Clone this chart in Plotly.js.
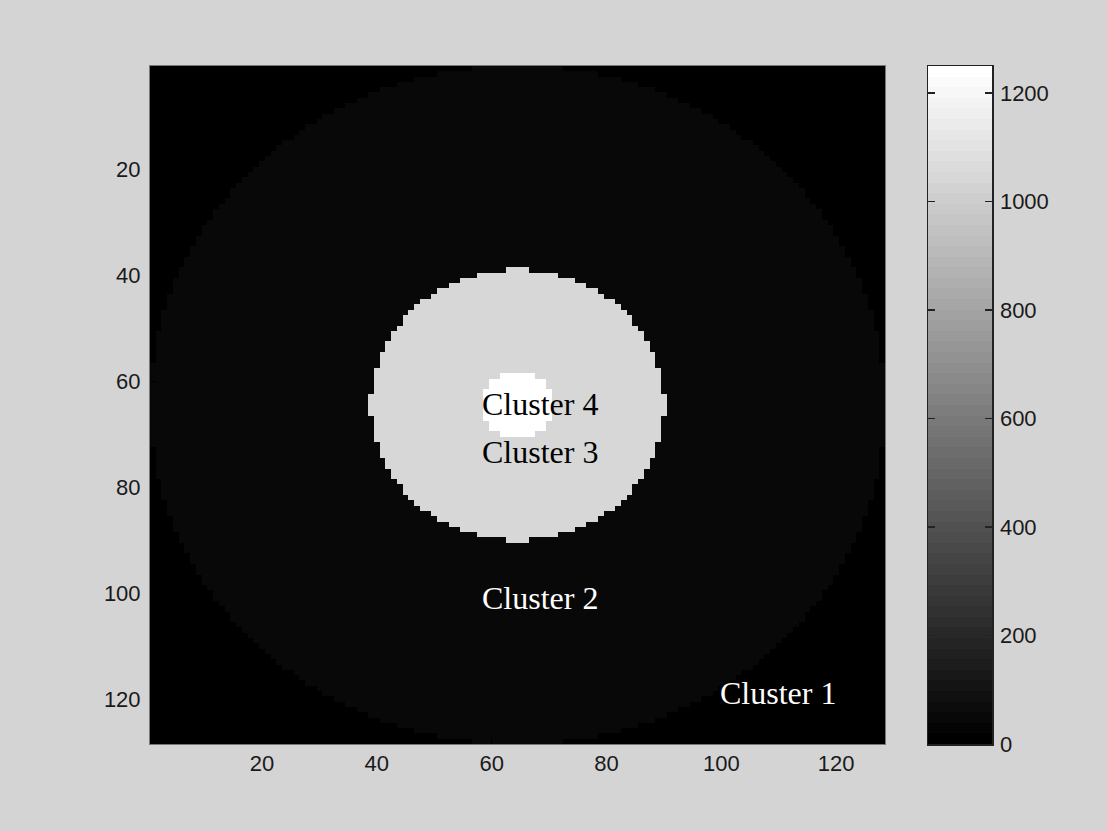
<!DOCTYPE html>
<html>
<head>
<meta charset="utf-8">
<script src="https://cdn.plot.ly/plotly-3.0.1.min.js"></script>
<style>
  html, body { margin: 0; padding: 0; background: #d4d4d4; }
  #chart { width: 1107px; height: 831px; }
</style>
</head>
<body>
<div id="chart"></div>
<script>
// ---- data ----
const gridSize = 128;                 // image is 128 x 128 pixels
const centreX = 64.5;
const centreY = 64.5;
const clusterNames = ['Cluster 1', 'Cluster 2', 'Cluster 3', 'Cluster 4'];
const clusterValues = [0, 50, 1050, 1250];          // grey level of each cluster
const clusterRadii = [Infinity, 64, 25.6, 6.4];     // outer radius of each cluster region
const labelX = [109.9, 68.4, 68.4, 68.4];
const labelY = [118.8, 101.0, 73.3, 64.4];
const labelColors = ['#ffffff', '#ffffff', '#000000', '#000000'];
const tickVals = [20, 40, 60, 80, 100, 120];
const colorbarTicks = [0, 200, 400, 600, 800, 1000, 1200];
const colorMax = 1250;
const colorLevels = 64;               // MATLAB gray(64)

// ---- label image ----
const xs = [], ys = [];
for (let i = 1; i <= gridSize; i++) { xs.push(i); ys.push(i); }
const z = ys.map(function (y) {
  return xs.map(function (x) {
    const d = Math.hypot(x - centreX, y - centreY);
    let v = clusterValues[0];
    for (let k = 0; k < clusterRadii.length; k++) {
      if (d <= clusterRadii[k]) v = clusterValues[k];
    }
    return v;
  });
});

// ---- discrete gray colormap ----
const colorscale = [];
for (let k = 0; k < colorLevels; k++) {
  const g = Math.round(255 * k / (colorLevels - 1));
  const c = 'rgb(' + g + ',' + g + ',' + g + ')';
  colorscale.push([k / colorLevels, c]);
  colorscale.push([(k + 1) / colorLevels, c]);
}

// colour bar drawn as its own little image
const barY = [], barZ = [];
for (let k = 0; k < colorLevels; k++) {
  const v = (k + 0.5) * colorMax / colorLevels;
  barY.push(v);
  barZ.push([v]);
}

const font = { family: 'Arial, "Liberation Sans", sans-serif', size: 22, color: '#1a1a1a' };

const traces = [
  {
    type: 'heatmap', x: xs, y: ys, z: z,
    colorscale: colorscale, zmin: 0, zmax: colorMax,
    showscale: false, zsmooth: false, hoverinfo: 'skip',
    xaxis: 'x', yaxis: 'y'
  },
  {
    type: 'heatmap', x: [0], y: barY, z: barZ,
    colorscale: colorscale, zmin: 0, zmax: colorMax,
    showscale: false, zsmooth: false, hoverinfo: 'skip',
    xaxis: 'x2', yaxis: 'y2'
  }
];

const annotations = clusterNames.map(function (name, i) {
  return {
    x: labelX[i], y: labelY[i], xref: 'x', yref: 'y',
    text: name, showarrow: false, xanchor: 'center', yanchor: 'middle',
    font: { family: '"Times New Roman", "Liberation Serif", serif', size: 32, color: labelColors[i] }
  };
});

const layout = {
  width: 1107, height: 831,
  paper_bgcolor: '#d4d4d4', plot_bgcolor: '#000000',
  margin: { l: 150, r: 115, t: 66, b: 87, pad: 0 },
  showlegend: false,
  font: font,
  xaxis: {
    domain: [0, 735 / 842], range: [0.5, 128.5], anchor: 'y',
    tickmode: 'array', tickvals: tickVals, ticks: 'inside', ticklen: 6, tickcolor: '#000',
    showgrid: false, zeroline: false, showline: true, mirror: true,
    linecolor: '#777', linewidth: 1, ticklabelstandoff: 0, tickfont: font
  },
  yaxis: {
    domain: [0, 1], range: [128.5, 0.5], anchor: 'x',
    tickmode: 'array', tickvals: tickVals, ticks: 'inside', ticklen: 6, tickcolor: '#000',
    showgrid: false, zeroline: false, showline: true, mirror: true,
    linecolor: '#777', linewidth: 1, ticklabelstandoff: 4, tickfont: font
  },
  xaxis2: {
    domain: [778 / 842, 1], range: [-0.5, 0.5], anchor: 'y2',
    showticklabels: false, ticks: '', showgrid: false, zeroline: false,
    showline: true, mirror: true, linecolor: '#222', linewidth: 1.5
  },
  yaxis2: {
    domain: [0, 1], range: [0, colorMax], anchor: 'x2', side: 'right',
    tickmode: 'array', tickvals: colorbarTicks, ticks: 'inside', ticklen: 7,
    tickcolor: '#222', tickwidth: 1.5, showgrid: false, zeroline: false,
    showline: true, mirror: 'ticks', linecolor: '#222', linewidth: 1.5,
    ticklabelstandoff: 2, tickfont: font
  },
  annotations: annotations
};

Plotly.newPlot('chart', traces, layout, { displayModeBar: false, staticPlot: true });
</script>
</body>
</html>
